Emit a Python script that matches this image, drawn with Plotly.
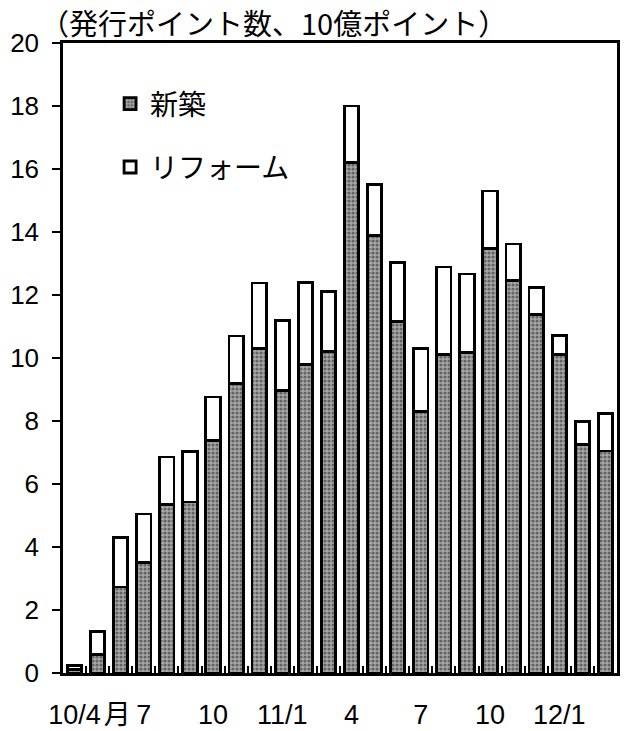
import plotly.graph_objects as go

months = list(range(24))  # 2010/4 .. 2012/3
shinchiku = [0.1, 0.6, 2.73, 3.5, 5.35, 5.43, 7.38, 9.2, 10.3, 8.98, 9.8, 10.2,
             16.2, 13.9, 11.15, 8.3, 10.1, 10.17, 13.47, 12.47, 11.38, 10.1, 7.26, 7.05]
total = [0.25, 1.33, 4.29, 5.05, 6.86, 7.02, 8.76, 10.7, 12.38, 11.2, 12.4, 12.12,
         18.0, 15.52, 13.04, 10.3, 12.89, 12.67, 15.3, 13.62, 12.23, 10.71, 7.99, 8.23]
reform = [round(t - s, 3) for t, s in zip(total, shinchiku)]

tick_pos = [0, 1.85, 3, 6, 9, 12, 15, 18, 21]
tick_text = ["10/4", "月", "7", "10", "11/1", "4", "7", "10", "12/1"]
y_ticks = list(range(0, 21, 2))

title_text = "（発行ポイント数、10億ポイント）"

JP = "Noto Sans CJK JP"
NUM = "Liberation Sans, Arial, sans-serif"

fig = go.Figure()
fig.add_trace(go.Bar(
    x=months, y=shinchiku, name="新築", legendgroup="a",
    marker=dict(color="#7a7a7a", line=dict(color="black", width=2.8),
                pattern=dict(shape=".", fgcolor="#1e1e1e", bgcolor="#a8a8a8",
                             size=4, solidity=0.5)),
    width=0.62,
))
fig.add_trace(go.Bar(
    x=months, y=reform, name="リフォーム", legendgroup="b",
    marker=dict(color="white", line=dict(color="black", width=2.8)),
    width=0.62,
))

fig.update_layout(
    width=624, height=731,
    barmode="stack",
    plot_bgcolor="white", paper_bgcolor="white",
    margin=dict(l=63, r=7, t=43, b=58, autoexpand=False),
    showlegend=True,
    legend=dict(x=0.085, y=0.943, xanchor="left", yanchor="top",
                traceorder="grouped", tracegroupgap=24,
                font=dict(family=JP, size=28, color="black"),
                bgcolor="rgba(0,0,0,0)"),
    annotations=[dict(text=title_text, xref="paper", yref="paper",
                      x=-0.045, y=1.0, xanchor="left", yanchor="bottom",
                      yshift=-2, showarrow=False,
                      font=dict(family=JP, size=29, color="black"))],
)

fig.update_xaxes(
    range=[-0.5, 23.5], tickmode="array", tickvals=tick_pos, ticktext=tick_text,
    tickangle=0, automargin=False,
    ticks="inside", ticklen=0, tickwidth=0, tickcolor="black",
    showgrid=False, zeroline=False,
    showline=True, linecolor="black", linewidth=2.5, mirror=True,
    tickfont=dict(family=NUM + ", " + JP, size=27, color="black"),
    ticklabelstandoff=16,
    minor=dict(tickmode="linear", tick0=0.5, dtick=1, ticks="inside",
               ticklen=7, tickwidth=2, tickcolor="black", showgrid=False),
)
fig.update_yaxes(
    range=[0, 20], tickmode="array", tickvals=y_ticks,
    ticks="outside", ticklen=8, tickwidth=2, tickcolor="black", automargin=False,
    showgrid=False, zeroline=False,
    showline=True, linecolor="black", linewidth=2.5, mirror=True,
    tickfont=dict(family=NUM, size=26, color="black"),
    ticklabelstandoff=8,
)

fig.write_html("out.html",
               config={"displayModeBar": False},
               post_script="document.body.style.margin='0';document.body.style.overflow='hidden';")
